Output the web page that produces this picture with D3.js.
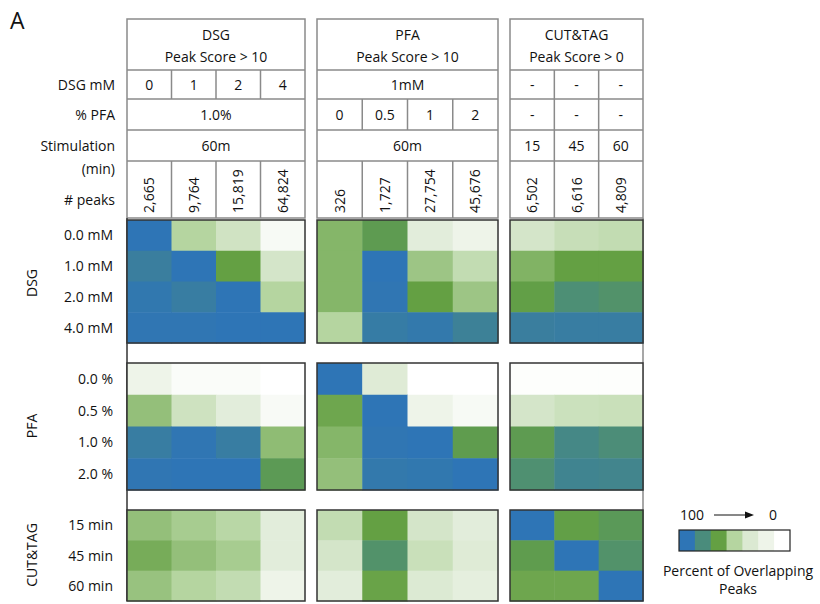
<!DOCTYPE html>
<html>
<head>
<meta charset="utf-8">
<script src="https://cdn.jsdelivr.net/npm/d3@7"></script>
<style>
  body { margin: 0; background: #fff; }
  svg { display: block; font-family: "Open Sans", sans-serif; }
</style>
</head>
<body>
<svg id="chart" width="820" height="604"></svg>
<script>
// Sample groups (columns) and their header rows
const colGroups = ["DSG", "PFA", "CUT&TAG"];
const groupTitles = ["Peak Score > 10", "Peak Score > 10", "Peak Score > 0"];
const dsgRow = [["0", "1", "2", "4"], ["1mM"], ["-", "-", "-"]];
const pfaRow = [["1.0%"], ["0", "0.5", "1", "2"], ["-", "-", "-"]];
const stimRow = [["60m"], ["60m"], ["15", "45", "60"]];
const peaksRow = [
  ["2,665", "9,764", "15,819", "64,824"],
  ["326", "1,727", "27,754", "45,676"],
  ["6,502", "6,616", "4,809"]
];
const headerLabels = ["DSG mM", "% PFA", "Stimulation", "# peaks"];

// Comparison groups (rows)
const rowGroups = ["DSG", "PFA", "CUT&TAG"];
const dsgRowLabels = ["0.0 mM", "1.0 mM", "2.0 mM", "4.0 mM"];
const pfaRowLabels = ["0.0 %", "0.5 %", "1.0 %", "2.0 %"];
const cutRowLabels = ["15 min", "45 min", "60 min"];

// Percent of overlapping peaks: [row group][column group][row][col]
const dsgVsDsg = [[100, 50, 38, 8], [93, 100, 67, 36], [98, 94, 100, 50], [99, 99, 100, 100]];
const dsgVsPfa = [[60, 71, 27, 17], [60, 100, 55, 44], [60, 99, 67, 55], [50, 95, 97, 91]];
const dsgVsCut = [[36, 42, 44], [61, 67, 67], [68, 81, 78], [93, 94, 94]];
const pfaVsDsg = [[17, 5, 5, 0], [57, 39, 27, 7], [94, 99, 94, 58], [99, 100, 100, 72]];
const pfaVsPfa = [[100, 30, 0, 0], [65, 100, 17, 8], [60, 99, 100, 70], [57, 97, 98, 100]];
const pfaVsCut = [[2, 2, 2], [36, 40, 41], [71, 86, 82], [80, 89, 88]];
const cutVsDsg = [[57, 53, 48, 27], [63, 57, 53, 27], [56, 50, 44, 17]];
const cutVsPfa = [[44, 67, 36, 27], [36, 78, 41, 30], [27, 66, 32, 25]];
const cutVsCut = [[100, 68, 73], [70, 100, 78], [65, 65, 100]];

// Legend
const legendStops = [100, 83, 67, 50, 33, 17, 0];
const legendColors = ["#2e75b6", "#4a8c7c", "#64a043", "#b5d5a0", "#dbe9d2", "#eef4e9", "#ffffff"];
const legendTitle = ["Percent of Overlapping", "Peaks"];

const color = d3.scaleLinear().domain(legendStops).range(legendColors).interpolate(d3.interpolateRgb);

const svg = d3.select("#chart");
const FS = 14;
const ink = "#111";

// Column geometry for each sample group
const panelX = [[127, 305], [317, 498], [510, 643]];
const nCols = [4, 4, 3];
const colScales = panelX.map((r, i) => d3.scaleBand().domain(d3.range(nCols[i])).range(r));

// Header rows (y boundaries)
const headY = [19, 70, 99, 130, 161, 218];
const gridStroke = "#8a8a8a";

// Panel letter
svg.append("text").attr("x", 10).attr("y", 29).attr("font-size", 23).attr("fill", ink).text("A");

// Header table
colGroups.forEach((g, gi) => {
  const [x0, x1] = panelX[gi];
  const hdr = svg.append("g");
  hdr.append("rect").attr("x", x0).attr("y", headY[0]).attr("width", x1 - x0).attr("height", headY[5] - headY[0])
    .attr("fill", "none").attr("stroke", gridStroke).attr("stroke-width", 1.5);
  hdr.append("text").attr("x", (x0 + x1) / 2).attr("y", 40).attr("text-anchor", "middle")
    .attr("font-size", FS).attr("fill", ink).text(g);
  hdr.append("text").attr("x", (x0 + x1) / 2).attr("y", 62).attr("text-anchor", "middle")
    .attr("font-size", FS).attr("fill", ink).text(groupTitles[gi]);

  const rows = [dsgRow[gi], pfaRow[gi], stimRow[gi], peaksRow[gi]];
  rows.forEach((labels, ri) => {
    const y0 = headY[ri + 1], y1 = headY[ri + 2];
    hdr.append("line").attr("x1", x0).attr("x2", x1).attr("y1", y0).attr("y2", y0)
      .attr("stroke", gridStroke).attr("stroke-width", 1.5);
    const xs = colScales[gi];
    if (labels.length === 1) {
      hdr.append("text").attr("x", (x0 + x1) / 2).attr("y", (y0 + y1) / 2 + 5)
        .attr("text-anchor", "middle").attr("font-size", FS).attr("fill", ink).text(labels[0]);
    } else {
      labels.forEach((lab, ci) => {
        if (ci > 0) {
          hdr.append("line").attr("x1", xs(ci)).attr("x2", xs(ci)).attr("y1", y0).attr("y2", y1)
            .attr("stroke", gridStroke).attr("stroke-width", 1.5);
        }
        const cx = xs(ci) + xs.bandwidth() / 2;
        if (ri === 3) {
          hdr.append("text").attr("transform", `translate(${cx + 5},${y1 - 5}) rotate(-90)`)
            .attr("font-size", FS).attr("fill", ink).text(lab);
        } else {
          hdr.append("text").attr("x", cx).attr("y", (y0 + y1) / 2 + 5)
            .attr("text-anchor", "middle").attr("font-size", FS).attr("fill", ink).text(lab);
        }
      });
    }
  });
});

// Header row labels
const headLabelY = [90, 120, 151, 205];
headerLabels.forEach((lab, i) => {
  svg.append("text").attr("x", 115).attr("y", headLabelY[i]).attr("text-anchor", "end")
    .attr("font-size", FS).attr("fill", ink).text(lab);
});
svg.append("text").attr("x", 115).attr("y", 174).attr("text-anchor", "end")
  .attr("font-size", FS).attr("fill", ink).text("(min)");

// Outer frame lines down the heatmap area
svg.append("line").attr("x1", 127).attr("x2", 127).attr("y1", 218).attr("y2", 601)
  .attr("stroke", "#333").attr("stroke-width", 1.5);
svg.append("line").attr("x1", 643).attr("x2", 643).attr("y1", 218).attr("y2", 601)
  .attr("stroke", gridStroke).attr("stroke-width", 1.5);

// Heatmap blocks
const blockY = [[220, 343], [363, 490], [510, 601]];
const blockRowLabels = [dsgRowLabels, pfaRowLabels, cutRowLabels];
const blockData = [
  [dsgVsDsg, dsgVsPfa, dsgVsCut],
  [pfaVsDsg, pfaVsPfa, pfaVsCut],
  [cutVsDsg, cutVsPfa, cutVsCut]
];
const groupLabelY = [283, 426, 555];

rowGroups.forEach((rg, bi) => {
  const labels = blockRowLabels[bi];
  const ys = d3.scaleBand().domain(d3.range(labels.length)).range(blockY[bi]);
  const g = svg.append("g");

  colGroups.forEach((cg, gi) => {
    const xs = colScales[gi];
    const mat = blockData[bi][gi];
    const cells = [];
    mat.forEach((row, r) => row.forEach((v, c) => cells.push({ r, c, v })));
    g.selectAll(null).data(cells).enter().append("rect")
      .attr("x", d => xs(d.c))
      .attr("y", d => ys(d.r))
      .attr("width", xs.bandwidth() + 0.5)
      .attr("height", ys.bandwidth() + 0.5)
      .attr("fill", d => color(d.v));
    g.append("rect").attr("x", panelX[gi][0]).attr("y", blockY[bi][0])
      .attr("width", panelX[gi][1] - panelX[gi][0]).attr("height", blockY[bi][1] - blockY[bi][0])
      .attr("fill", "none").attr("stroke", "#333").attr("stroke-width", 1.5);
  });

  labels.forEach((lab, r) => {
    g.append("text").attr("x", 113).attr("y", ys(r) + ys.bandwidth() / 2 + 5)
      .attr("text-anchor", "end").attr("font-size", FS).attr("fill", ink).text(lab);
  });
  g.append("text").attr("transform", `translate(37,${groupLabelY[bi]}) rotate(-90)`)
    .attr("text-anchor", "middle").attr("font-size", FS).attr("fill", ink).text(rg);
});

// Legend
const lx = d3.scaleBand().domain(d3.range(legendStops.length)).range([679, 790]);
const leg = svg.append("g");
leg.selectAll(null).data(legendStops).enter().append("rect")
  .attr("x", (d, i) => lx(i)).attr("y", 530).attr("width", lx.bandwidth() + 0.5).attr("height", 21)
  .attr("fill", d => color(d));
leg.append("rect").attr("x", 679).attr("y", 530).attr("width", 111).attr("height", 21)
  .attr("fill", "none").attr("stroke", "#222").attr("stroke-width", 1.2);
leg.append("text").attr("x", 692).attr("y", 520).attr("text-anchor", "middle")
  .attr("font-size", FS).attr("fill", ink).text(legendStops[0]);
leg.append("text").attr("x", 773).attr("y", 520).attr("text-anchor", "middle")
  .attr("font-size", FS).attr("fill", ink).text(legendStops[legendStops.length - 1]);
leg.append("line").attr("x1", 714).attr("x2", 746).attr("y1", 515).attr("y2", 515)
  .attr("stroke", ink).attr("stroke-width", 1);
leg.append("path").attr("d", "M745,511.5 L754,515 L745,518.5 Z").attr("fill", ink);
legendTitle.forEach((t, i) => {
  leg.append("text").attr("x", 738).attr("y", 576 + i * 18).attr("text-anchor", "middle")
    .attr("font-size", FS).attr("fill", ink).text(t);
});
</script>
</body>
</html>
